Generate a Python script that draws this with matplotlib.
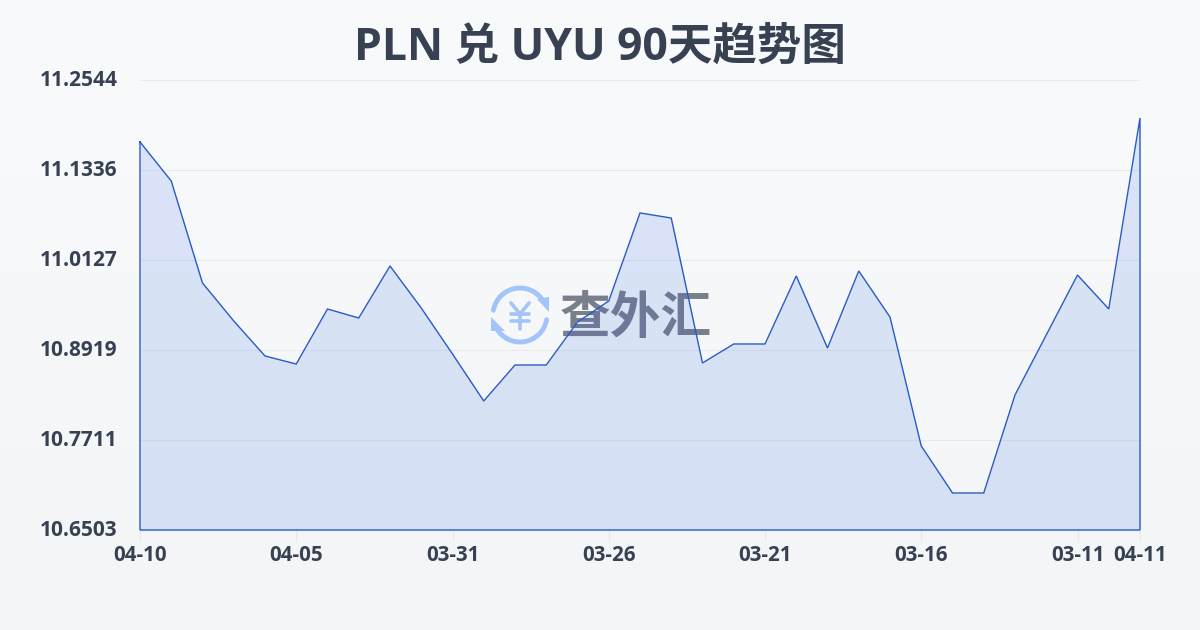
import numpy as np
import matplotlib
matplotlib.use('Agg')
import matplotlib.pyplot as plt
from matplotlib.patches import Arc, Polygon
from matplotlib.transforms import ScaledTranslation

plt.rcParams['font.family'] = ['Open Sans', 'Noto Sans CJK SC', 'DejaVu Sans']

title = 'PLN 兑 UYU 90天趋势图'
rates = [11.1712, 11.1188, 10.9819, 10.9309, 10.8839, 10.8731, 10.9470, 10.9349,
         11.0047, 10.9483, 10.8866, 10.8235, 10.8718, 10.8718, 10.9295, 10.9577,
         11.0759, 11.0691, 10.8745, 10.9000, 10.9000, 10.9913, 10.8946, 10.9980,
         10.9362, 10.7631, 10.7000, 10.7000, 10.8315, 10.9121, 10.9926, 10.9470,
         11.2034]
y_ticks = [10.6503, 10.7711, 10.8919, 11.0127, 11.1336, 11.2544]
x_ticks = [0, 5, 10, 15, 20, 25, 30, 32]
x_labels = ['04-10', '04-05', '03-31', '03-26', '03-21', '03-16', '03-11', '04-11']

W, H = 1200, 630
TEXT = '#374151'
LINE = '#2a5bc4'
LOGO = '#a2c4fa'

fig = plt.figure(figsize=(W / 100, H / 100), dpi=100)

# page background, soft vertical gradient
bg = fig.add_axes([0, 0, 1, 1], zorder=0)
bg.imshow(np.array([[[248, 250, 252], [248, 250, 252]],
                    [[243, 245, 247], [243, 245, 247]]], dtype=np.uint8),
          aspect='auto', interpolation='bicubic', extent=(0, 1, 0, 1))
bg.axis('off')

ax = fig.add_axes([140 / W, (H - 530) / H, 1000 / W, 450 / H], zorder=4)
ax.patch.set_alpha(0)
x = np.arange(len(rates))
ax.set_xlim(0, len(rates) - 1)
ax.set_ylim(y_ticks[0], y_ticks[-1])

ax.set_yticks(y_ticks, [f'{v:.4f}' for v in y_ticks])
ax.set_xticks(x_ticks, x_labels)
ax.grid(axis='y', color='#e8eaee', lw=0.8)
ax.set_axisbelow(True)
for s in ax.spines.values():
    s.set_visible(False)
ax.tick_params(axis='y', length=0, pad=16, labelsize=15, labelcolor=TEXT)
ax.tick_params(axis='x', length=8, width=0.8, color='#e6e8ec', pad=3,
               labelsize=14.8, labelcolor=TEXT)
for lab in ax.get_xticklabels() + ax.get_yticklabels():
    lab.set_fontweight('bold')
# y labels sit a little above their gridlines
shift = ScaledTranslation(0, 2 / 100, fig.dpi_scale_trans)
for lab in ax.get_yticklabels():
    lab.set_transform(lab.get_transform() + shift)

ax.fill_between(x, rates, y_ticks[0], color='#1a55e0', alpha=0.13, lw=0, zorder=2)
# outline runs down the right edge and along the base as well
ax.plot(list(x) + [x[-1], 0, 0], rates + [y_ticks[0], y_ticks[0], rates[0]],
        color=LINE, lw=1.0, clip_on=False, zorder=4, solid_joinstyle='miter')

fig.text(599.5 / W, 1 - 48 / H, title, ha='center', va='center', fontsize=32,
         fontweight='bold', color=TEXT)

# watermark, drawn in pixel coordinates
wm = fig.add_axes([0, 0, 1, 1], zorder=3)
wm.set_xlim(0, W)
wm.set_ylim(H, 0)
wm.axis('off')
wm.patch.set_alpha(0)
wm.add_patch(Arc((520, 315), 54, 54, theta1=190, theta2=325, color=LOGO, lw=3.5, capstyle='round'))
wm.add_patch(Arc((520, 315), 54, 54, theta1=10, theta2=150, color=LOGO, lw=3.5, capstyle='round'))
wm.add_patch(Polygon([(537, 299), (549, 297), (549, 312)], closed=True, color=LOGO, lw=0))
wm.add_patch(Polygon([(491, 317), (491, 331), (505, 331)], closed=True, color=LOGO, lw=0))
# yen sign
wm.plot([511, 520, 529], [303, 314, 303], color=LOGO, lw=2.6, solid_capstyle='round')
wm.plot([520, 520], [314, 329], color=LOGO, lw=2.6, solid_capstyle='round')
wm.plot([511, 529], [314, 314], color=LOGO, lw=2.6, solid_capstyle='round')
wm.plot([511, 529], [321, 321], color=LOGO, lw=2.6, solid_capstyle='round')
wm.set_xlim(0, W)
wm.set_ylim(H, 0)
wm.text(636, 320, '查外汇', ha='center', va='center', fontsize=36.5, fontweight='bold',
        color='#7a7f8c')

fig.savefig('out.png', dpi=100)
